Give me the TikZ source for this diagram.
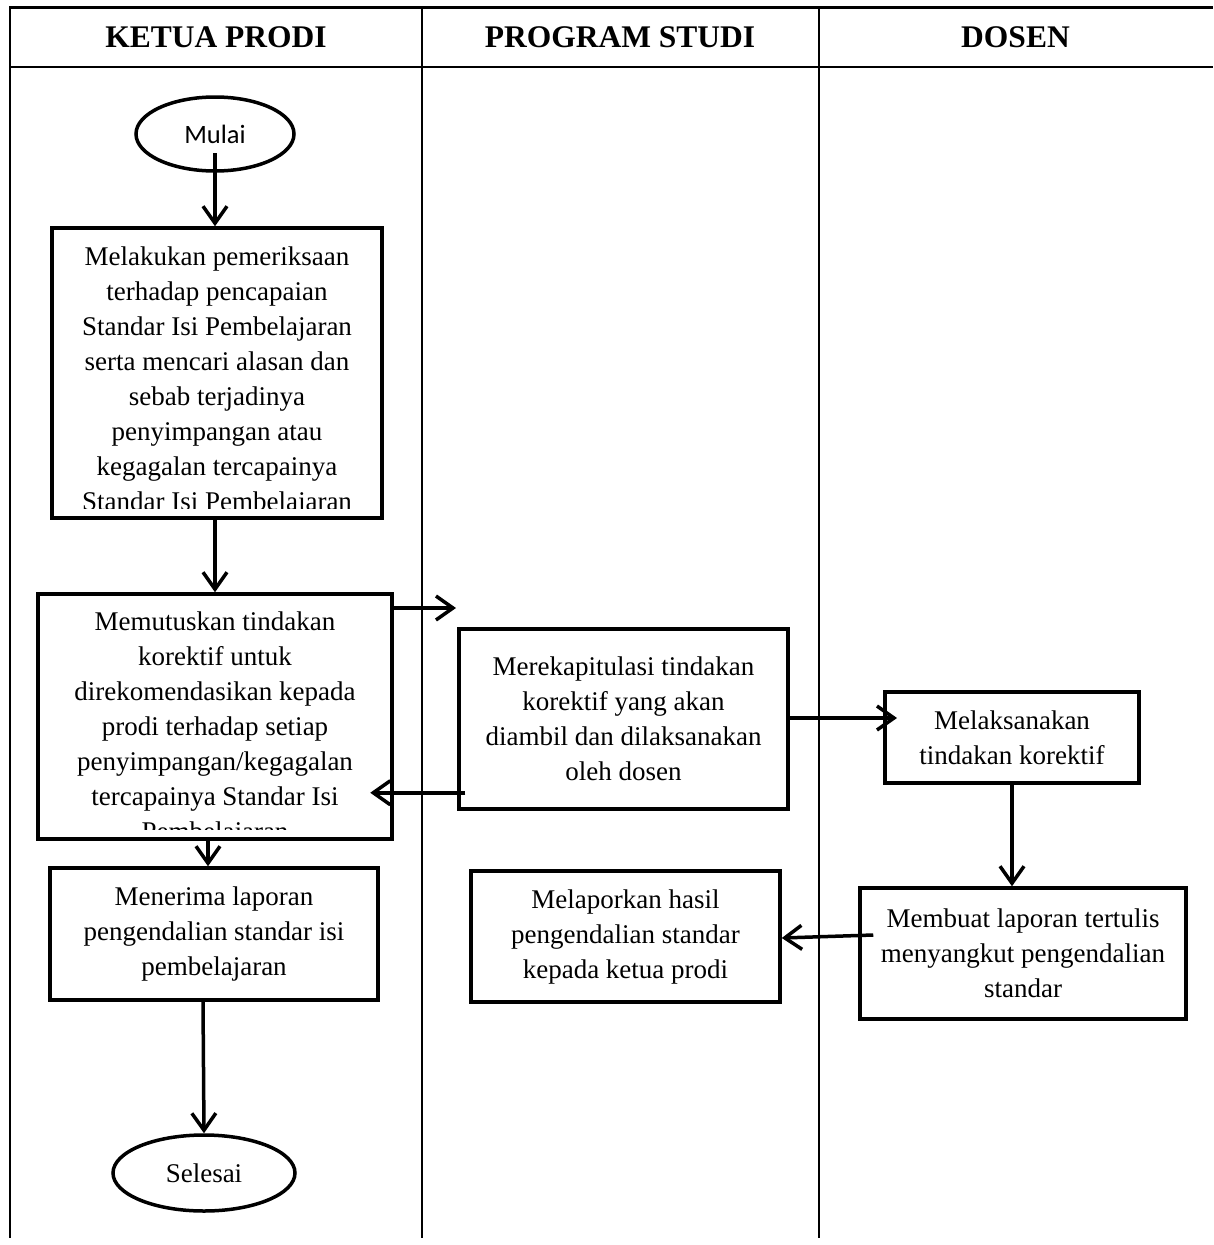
\documentclass[tikz,border=0pt]{standalone}
\usepackage{fontspec}
\setmainfont{Liberation Serif}
\newfontfamily\calibrifont{Carlito}
\usetikzlibrary{arrows.meta,shapes.geometric}
\begin{document}
\begin{tikzpicture}[x=1pt,y=-1pt,
  box/.style={draw,line width=3.5pt,rectangle,inner sep=0pt},
  btxt/.style={align=center,font=\fontsize{27}{35}\selectfont,inner sep=0pt},
  oval/.style={draw,ellipse,line width=3.5pt,inner sep=0pt},
  arr/.style={line width=3.5pt,-{Straight Barb[length=17pt,width=24pt]}},
  frame/.style={line width=2pt},
  hline/.style={line width=2.8pt},
  head/.style={font=\bfseries\fontsize{31.5}{36}\selectfont,inner sep=0pt}]
\useasboundingbox (0,0) rectangle (1213,1245);
% frame
\draw[hline] (9,7.5) -- (1213,7.5);
\draw[hline] (9,67) -- (1213,67);
\draw[frame] (10,6.3) -- (10,1238);
\draw[frame] (422,7.5) -- (422,1238);
\draw[frame] (818.5,7.5) -- (818.5,1238);
% headers
\node[head] (h1) at (216,37) {KETUA PRODI};
\node[head] (h2) at (620,37) {PROGRAM STUDI};
\node[head] (h3) at (1015.5,37) {DOSEN};
% start / end
\node[oval, minimum width=158pt, minimum height=74pt, font=\calibrifont\fontsize{26.5}{30}\selectfont] (m) at (215,134) {Mulai};
\node[oval, minimum width=182pt, minimum height=76pt, font=\fontsize{27}{35}\selectfont] (s) at (204,1173) {Selesai};
% box 1 (clipped text)
\node[box, minimum width=330pt, minimum height=290pt] (b1) at (217,373) {};
\begin{scope}
\clip (54,230) rectangle (380,508);
\node[btxt, anchor=north] (t1) at (217,247) {Melakukan pemeriksaan\\terhadap pencapaian\\Standar Isi Pembelajaran\\serta mencari alasan dan\\sebab terjadinya\\penyimpangan atau\\kegagalan tercapainya\\Standar Isi Pembelajaran};
\end{scope}
% box 2 (clipped text)
\node[box, minimum width=354pt, minimum height=245pt] (b2) at (215,716.5) {};
\begin{scope}
\clip (40,596) rectangle (390,829);
\node[btxt, anchor=north] (t2) at (215,611.5) {Memutuskan tindakan\\korektif untuk\\direkomendasikan kepada\\prodi terhadap setiap\\penyimpangan/kegagalan\\tercapainya Standar Isi\\Pembelajaran};
\end{scope}
% other boxes
\node[box, btxt, minimum width=329pt, minimum height=180pt] (b3) at (623.5,719) {Merekapitulasi tindakan\\korektif yang akan\\diambil dan dilaksanakan\\oleh dosen};
\node[box, btxt, minimum width=254pt, minimum height=91pt] (b4) at (1012,737.5) {Melaksanakan\\tindakan korektif};
\node[box, btxt, minimum width=326pt, minimum height=131pt] (b5) at (1023,953.5) {Membuat laporan tertulis\\menyangkut pengendalian\\standar};
\node[box, btxt, minimum width=309pt, minimum height=131pt] (b6) at (625.5,936.5) {Melaporkan hasil\\pengendalian standar\\kepada ketua prodi};
\node[box, btxt, minimum width=328pt, minimum height=132pt] (b7) at (214,934) {Menerima laporan\\pengendalian standar isi\\pembelajaran};
% connectors
\draw[arr] ([yshift=-19pt]m.center) -- (b1.north -| m.center);
\draw[arr] ([xshift=-2pt]b1.south) -- ([xshift=-2pt]b1.south |- b2.north);
\coordinate (r1) at (456,608);
\draw[arr] (b2.east |- r1) -- (r1);
\draw[arr] ([shift={(8,-18)}]b3.south west) -- ++(-95,0);
\coordinate (r2) at (897,718);
\draw[arr] (b3.east |- r2) -- (r2);
\draw[arr] (b4.south) -- (b4.south |- b5.north);
\draw[arr] ([shift={(15,-18.5)}]b5.west) -- ([yshift=-1.5pt]b6.east);
\draw[arr] ([xshift=-7pt]b2.south) -- ([xshift=-6pt]b7.north);
\draw[arr] ([xshift=-11pt]b7.south) -- (s.north);
\end{tikzpicture}
\end{document}
